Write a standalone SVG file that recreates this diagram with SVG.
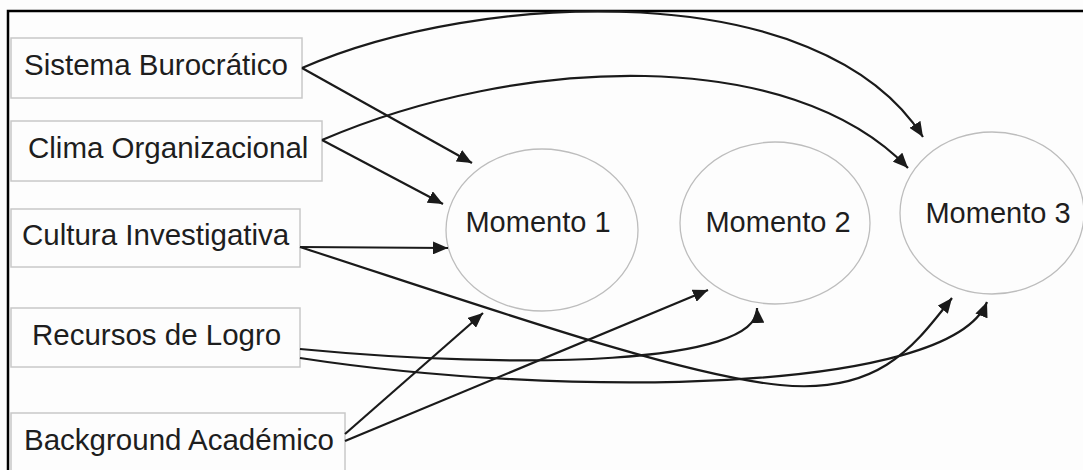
<svg xmlns="http://www.w3.org/2000/svg" width="1083" height="470" viewBox="0 0 1083 470">
<defs>
<style>
.box{fill:#fdfdfd;stroke:#c8c8c8;stroke-width:1.5}
.ell{fill:#fdfdfd;stroke:#bdbdbd;stroke-width:1.3}
.lbl{font-family:"Liberation Sans",Arial,sans-serif;font-size:29.5px;fill:#1e1e1e}
.mlbl{font-family:"Liberation Sans",Arial,sans-serif;font-size:29px;fill:#1e1e1e;text-anchor:middle}
.con{fill:none;stroke:#1a1a1a;stroke-width:2.2;marker-end:url(#arr)}
</style>
<marker id="arr" viewBox="0 0 15 13" refX="15" refY="6.5" markerWidth="15" markerHeight="13" markerUnits="userSpaceOnUse" orient="auto">
<path d="M0,0 L15,6.5 L0,13 z" fill="#1a1a1a"/>
</marker>
</defs>
<rect width="1083" height="470" fill="#fdfdfd"/>
<rect x="8" y="11" width="1100" height="500" fill="none" stroke="#000" stroke-width="2.5"/>

<g id="n-sistema"><rect class="box" x="11" y="38" width="291" height="60"/><text class="lbl" x="24" y="75">Sistema Burocrático</text></g>
<g id="n-clima"><rect class="box" x="11" y="121" width="311" height="60"/><text class="lbl" x="28" y="158">Clima Organizacional</text></g>
<g id="n-cultura"><rect class="box" x="11" y="209" width="289" height="58"/><text class="lbl" x="22" y="245">Cultura Investigativa</text></g>
<g id="n-recursos"><rect class="box" x="11" y="308" width="289" height="59"/><text class="lbl" x="32" y="345">Recursos de Logro</text></g>
<g id="n-background"><rect class="box" x="11" y="413" width="334" height="70"/><text class="lbl" x="24" y="450">Background Académico</text></g>

<g id="n-m1"><ellipse class="ell" cx="542" cy="230" rx="96" ry="81"/><text class="mlbl" x="538" y="232">Momento 1</text></g>
<g id="n-m2"><ellipse class="ell" cx="775" cy="223" rx="95" ry="81"/><text class="mlbl" x="778" y="232">Momento 2</text></g>
<g id="n-m3"><ellipse class="ell" cx="992" cy="213" rx="92" ry="81"/><text class="mlbl" x="998" y="223">Momento 3</text></g>

<g id="connectors">
<path class="con" d="M302,68 L472,163"/>
<path class="con" d="M302,68 C480,-10 820,-25 923,137"/>
<path class="con" d="M322,140 L443,204"/>
<path class="con" d="M322,140 C520,55 790,45 908,168"/>
<path class="con" d="M300,247 L448,248"/>
<path class="con" d="M300,247 C500,312 680,375 780,385 C880,395 915,345 952,298"/>
<path class="con" d="M300,349 C520,370 760,365 757,308"/>
<path class="con" d="M300,358 C560,398 950,395 987,302"/>
<path class="con" d="M345,434 L483,313"/>
<path class="con" d="M345,441 L708,290"/>
</g>
</svg>
